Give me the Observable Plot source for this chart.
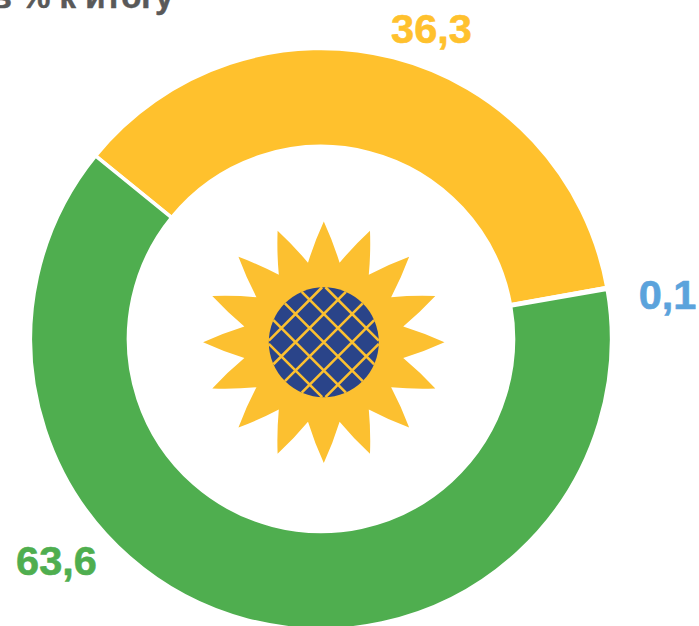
<!DOCTYPE html>
<html><head><meta charset="utf-8">
<script src="https://cdn.jsdelivr.net/npm/d3@7"></script>
<script src="https://cdn.jsdelivr.net/npm/@observablehq/plot@0.6"></script>
<style>html,body{margin:0;padding:0;background:#fff;overflow:hidden}svg{display:block}</style>
</head><body><div id="chart"></div>
<script>
const labels = ["36,3", "0,1", "63,6"];
const values = [36.3, 0.1, 63.6];
const colors = ["#FFC12D", "#5BA3DC", "#4FAE4F"];
const titleText = "в % к итогу";

const rows = labels.map((label, i) => ({label, value: values[i]}));
const font = "'Liberation Sans', Arial, sans-serif";
const cx = 321, cy = 339, rOuter = 290.5, rInner = 192.5;
const startAngle = -50.9 * Math.PI / 180;
const fx = 323.3, fy = 341.7;

const ring = (index, scales, vals) => {
  const g = d3.create("svg:g").attr("transform", `translate(${cx},${cy})`);
  const arc = d3.arc().innerRadius(rInner).outerRadius(rOuter);
  for (const i of index) {
    g.append("path")
      .attr("d", arc({startAngle: vals.x1[i], endAngle: vals.x2[i]}))
      .attr("fill", vals.fill[i])
      .attr("stroke", "#fff")
      .attr("stroke-width", 3.5);
  }
  return g.node();
};

const star = {draw(ctx, size) {
  const R = Math.sqrt(size / Math.PI), r = R * 0.671, n = 16, step = Math.PI / n;
  const pt = (a, q) => [q * Math.sin(a), -q * Math.cos(a)];
  for (let k = 0; k < n; k++) {
    const a = 2 * k * step;
    const [tx, ty] = pt(a, R);
    if (k === 0) ctx.moveTo(tx, ty);
    const [c1x, c1y] = pt(a + step * 0.47, (R + r) / 2);
    const [nx, ny] = pt(a + step, r);
    ctx.quadraticCurveTo(c1x, c1y, nx, ny);
    const [c2x, c2y] = pt(a + step * 1.53, (R + r) / 2);
    const [ex, ey] = pt(a + 2 * step, R);
    ctx.quadraticCurveTo(c2x, c2y, ex, ey);
  }
  ctx.closePath();
}};

const hatch = {draw(ctx, size) {
  const R = Math.sqrt(size / Math.PI), gap = R * 0.364, s = Math.SQRT1_2;
  for (const k of [-2, -1, 0, 1, 2]) {
    const d = k * gap, h = Math.sqrt(R * R - d * d);
    ctx.moveTo(s * (d - h), s * (d + h));
    ctx.lineTo(s * (d + h), s * (d - h));
    ctx.moveTo(s * (d - h), s * (-d - h));
    ctx.lineTo(s * (d + h), s * (-d + h));
  }
}};

const mark = [1];
const flower = {frameAnchor: "top-left", dx: fx, dy: fy};
const label = (i, dx, dy) => Plot.text([labels[i]], {
  text: d => d, frameAnchor: "top-left", dx, dy,
  textAnchor: "middle", lineAnchor: "middle", fill: colors[i],
  stroke: colors[i], strokeWidth: 0.6,
  fontSize: 41.5, fontWeight: 700, fontFamily: font
});

const plot = Plot.plot({
  width: 699, height: 626,
  margin: 0,
  style: {background: "#fff", overflow: "hidden"},
  x: {domain: [0, 100], range: [startAngle, startAngle + 2 * Math.PI], axis: null},
  color: {domain: labels, range: colors},
  marks: [
    Plot.barX(rows, Plot.stackX({x: "value", fill: "label", render: ring})),
    Plot.dot(mark, {...flower, r: 120.7, symbol: star, fill: "#FCC030"}),
    Plot.dot(mark, {...flower, r: 55, fill: "#2A4489"}),
    Plot.dot(mark, {...flower, r: 55, symbol: hatch, fill: "none", stroke: "#FCC030", strokeWidth: 2.6}),
    label(0, 431, 29),
    label(1, 667, 295),
    label(2, 56, 561),
    Plot.text([titleText], {
      text: d => d, frameAnchor: "top-left", dx: -9, dy: -16,
      textAnchor: "start", fill: "#595959", stroke: "#595959", strokeWidth: 0.5,
      fontSize: 33, fontWeight: 700, fontFamily: font
    })
  ]
});
document.getElementById("chart").append(plot);
</script></body></html>
